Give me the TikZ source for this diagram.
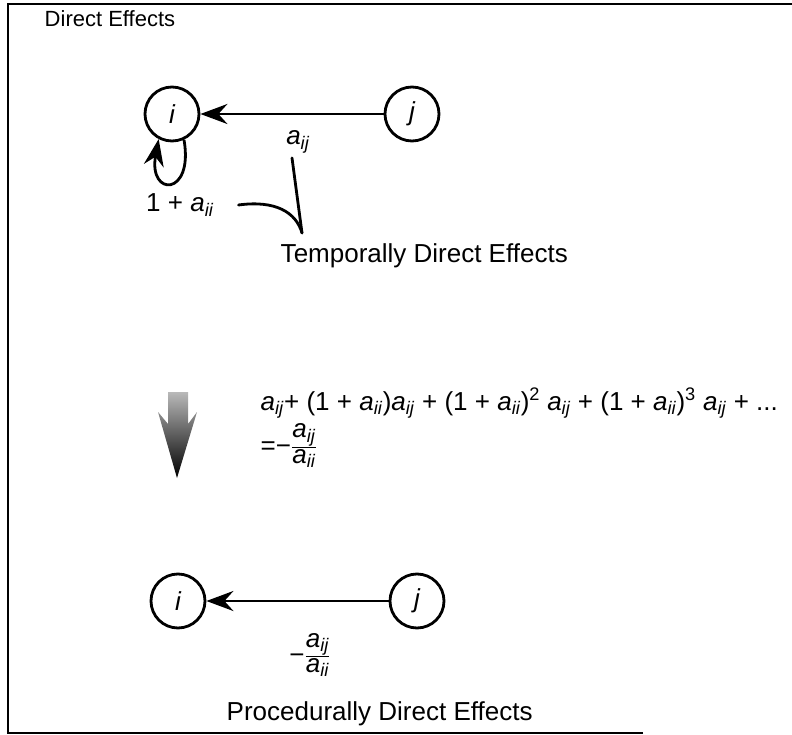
\documentclass[tikz,border=0pt]{standalone}
\usepackage{fontspec}
\setmainfont{Liberation Sans}
\usepackage{amsmath}
\usetikzlibrary{arrows.meta}
\newcommand{\av}[1]{\textit{a}\textsubscript{\textit{#1}}}
\newcommand{\afrac}{\ensuremath{\frac{\hbox{\av{ij}}}{\hbox{\av{ii}}}}}
\begin{document}
\begin{tikzpicture}[x=1pt,y=-1pt,line width=2.8pt,>={Stealth[length=27pt,width=20pt,inset=9pt]},
 font=\fontsize{26}{30}\selectfont,
 state/.style={circle,draw,minimum size=54pt,inner sep=0pt,font=\fontsize{26}{30}\selectfont\itshape},
 eqline/.style={anchor=base west,font=\fontsize{26}{30}\selectfont}]
\useasboundingbox (0,0) rectangle (792,735);
\draw[line width=2pt] (643,733) -- (8,733) -- (8,4) -- (792,4);
% direct effects
\node[anchor=base west,font=\fontsize{22}{26}\selectfont] (ttl) at (40,27) {Direct Effects};
\node[state] (i1) at (172,114) {i};
\node[state] (j1) at (412,114) {j};
\draw[->] (j1) -- (i1);
\draw[->] (i1.-65) .. controls (194,197) and (148,197) .. (i1.-118);
\node (aij) at (298,142) {\av{ij}};
\node (self) at (180,205) {1 + \av{ii}};
\coordinate (meet) at (302,233);
\draw[line cap=round] ([xshift=-6pt]aij.south) -- (meet);
\draw[line cap=round] ([xshift=20pt]self.east) .. controls (275,200) and (296,212) .. (meet);
\node[anchor=base west] (tde) at (276,263) {Temporally Direct Effects};
% summation
\shade[top color=gray!55,bottom color=black] (168,392) -- (188,392) -- (188,424) -- (197,412)
 -- (177,478) -- (158,412) -- (168,424) -- cycle;
\node[eqline] (eqa) at (256,410)
 {\av{ij}+ (1 + \av{ii})\av{ij} + (1 + \av{ii})\textsuperscript{2} \av{ij} + (1 + \av{ii})\textsuperscript{3} \av{ij} + ...};
\node[eqline] (eqb) at (256,454) {=−\afrac};
% procedurally direct effects
\node[state] (i2) at (178,601) {i};
\node[state] (j2) at (417,601) {j};
\draw[->] (j2) -- (i2);
\node (pij) at (310,655) {−\afrac};
\node[anchor=base west] (pde) at (222,720) {Procedurally Direct Effects};
\end{tikzpicture}
\end{document}
